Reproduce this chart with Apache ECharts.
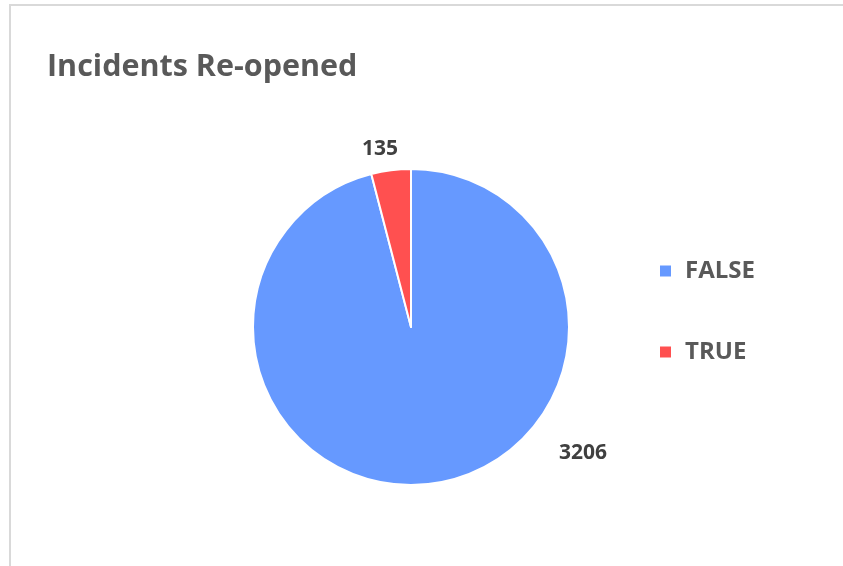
<!DOCTYPE html>
<html>
<head>
<meta charset="utf-8">
<title>Incidents Re-opened</title>
<script src="https://cdn.jsdelivr.net/npm/echarts@6/dist/echarts.min.js"></script>
<style>
  html, body { margin: 0; padding: 0; background: #ffffff; }
  #chart { width: 843px; height: 566px; }
</style>
</head>
<body>
<div id="chart"></div>
<script>
// Re-opened status of incidents
const categories = ['FALSE', 'TRUE'];
const counts = [3206, 135];
const colors = ['#6699ff', '#ff5050'];

const chart = echarts.init(document.getElementById('chart'), null, { renderer: 'canvas' });

const cx = 411, cy = 327, r = 158;
const fontFamily = '"Open Sans", "Noto Sans", sans-serif';

// label offsets from the pie centre, per slice
const labelOffsets = [[172, 126], [-31, -178]];

chart.setOption({
  animation: false,
  backgroundColor: '#ffffff',
  title: {
    text: 'Incidents Re-opened',
    left: 42,
    top: 47,
    padding: 5,
    textStyle: {
      fontFamily: fontFamily,
      fontSize: 30.5,
      fontWeight: 'bold',
      color: '#595959'
    }
  },
  legend: {
    orient: 'vertical',
    left: 653,
    top: 254,
    padding: 5,
    icon: 'rect',
    itemWidth: 13,
    itemHeight: 13,
    itemGap: 57,
    data: categories,
    textStyle: {
      fontFamily: fontFamily,
      fontSize: 24,
      fontWeight: 'bold',
      color: '#595959',
      lineHeight: 24,
      padding: [0, 0, 0, 8]
    }
  },
  graphic: [{
    type: 'polyline',
    shape: { points: [[843, 5], [10, 5], [10, 566]] },
    style: { stroke: '#d9d9d9', lineWidth: 2, fill: null },
    silent: true
  }],
  series: [{
    type: 'pie',
    center: [cx, cy],
    radius: r,
    startAngle: 90,
    clockwise: true,
    itemStyle: { borderColor: '#ffffff', borderWidth: 2 },
    label: {
      show: true,
      position: 'outside',
      formatter: '{c}',
      fontFamily: fontFamily,
      fontSize: 21,
      fontWeight: 'bold',
      color: '#404040'
    },
    labelLine: { show: false },
    labelLayout: function (params) {
      const off = labelOffsets[params.dataIndex];
      return {
        x: cx + off[0],
        y: cy + off[1],
        align: 'center',
        verticalAlign: 'middle'
      };
    },
    emphasis: { disabled: true },
    data: categories.map((name, i) => ({
      name: name,
      value: counts[i],
      itemStyle: { color: colors[i] }
    }))
  }]
});
</script>
</body>
</html>
